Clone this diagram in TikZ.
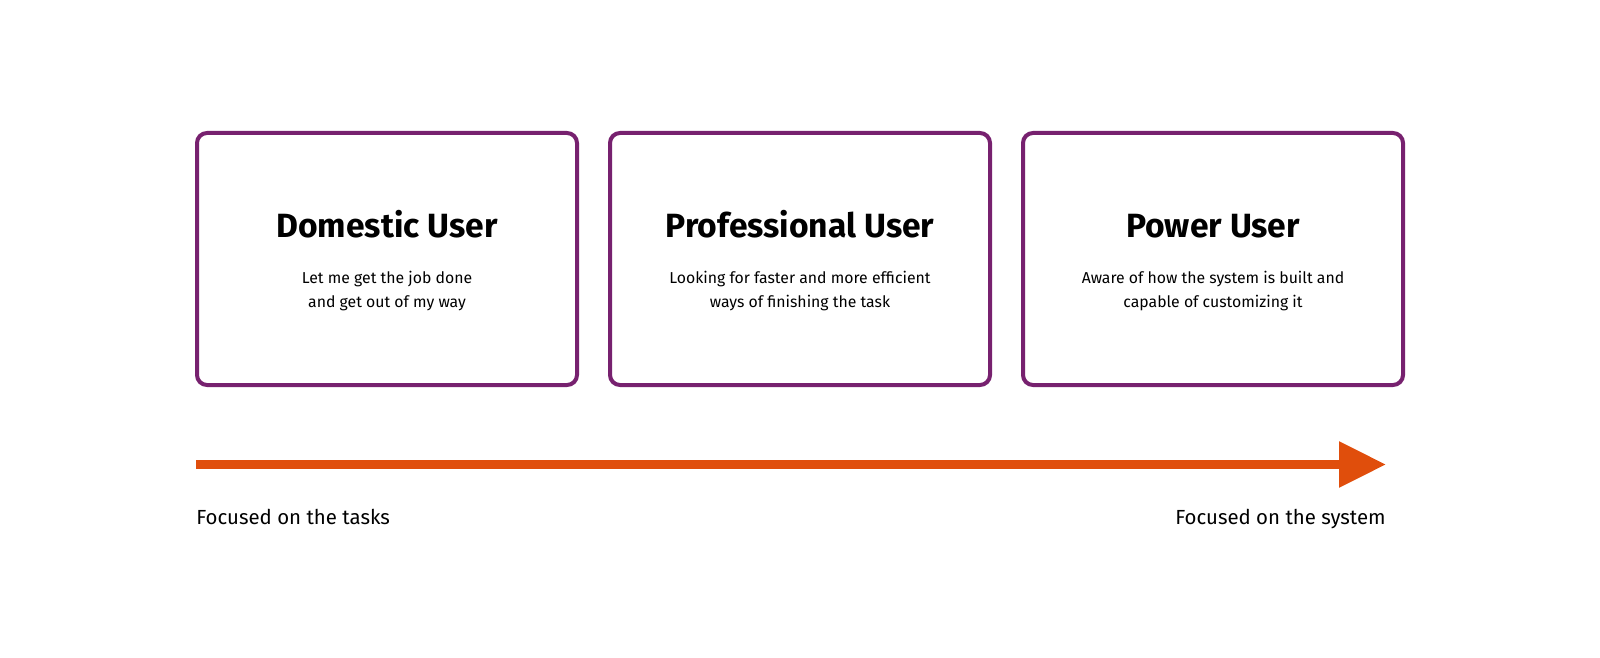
\documentclass[tikz,border=0pt]{standalone}
\usepackage{fontspec}
\setmainfont{Fira Sans}
\usetikzlibrary{arrows.meta}
\definecolor{aubergine}{HTML}{77216F}
\definecolor{ubuorange}{HTML}{E04E0C}
\begin{document}
\begin{tikzpicture}[x=0.5pt,y=-0.5pt]
                \tikzstyle{userbox}=[rectangle,draw=aubergine,line width=2pt,rounded corners=5pt,fill=white,minimum width=190pt,minimum height=126pt,inner sep=0pt]
                \tikzstyle{title}=[anchor=base,font=\fontsize{16.8}{20}\selectfont\bfseries,inner sep=0pt]
                \tikzstyle{blurb}=[anchor=base,align=center,font=\fontsize{7.9}{12}\selectfont,inner sep=0pt]
                \tikzstyle{side}=[anchor=base,font=\fontsize{10.2}{12}\selectfont,inner sep=0pt]
                \useasboundingbox (0,0) rectangle (1600,658);
                        \node[userbox] (B-0) at (387, 259){};
                        \node[userbox] (B-1) at (800, 259){};
                        \node[userbox] (B-2) at (1213, 259){};
                        \node[title] (T-0) at (387, 237){Domestic User};
                        \node[title] (T-1) at (800, 237){Professional User};
                        \node[title] (T-2) at (1213, 237){Power User};
                        \node[blurb] (D-0) at (387, 307){Let me get the job done\\and get out of my way};
                        \node[blurb] (D-1) at (800, 307){Looking for faster and more efficient\\ways of finishing the task};
                        \node[blurb] (D-2) at (1213, 307){Aware of how the system is built and\\capable of customizing it};
                        \coordinate (A-0) at (196, 464.5);
                        \coordinate (A-1) at (1386, 464.5);
                        \node[side,anchor=base west] (L-0) at (196, 524){Focused on the tasks};
                        \node[side,anchor=base east] (L-1) at (1386, 524){Focused on the system};

                        \draw[ubuorange,line width=4.5pt,-{Triangle[length=23.5pt,width=22pt]}] (A-0) -- (A-1);
            \end{tikzpicture}
\end{document}
